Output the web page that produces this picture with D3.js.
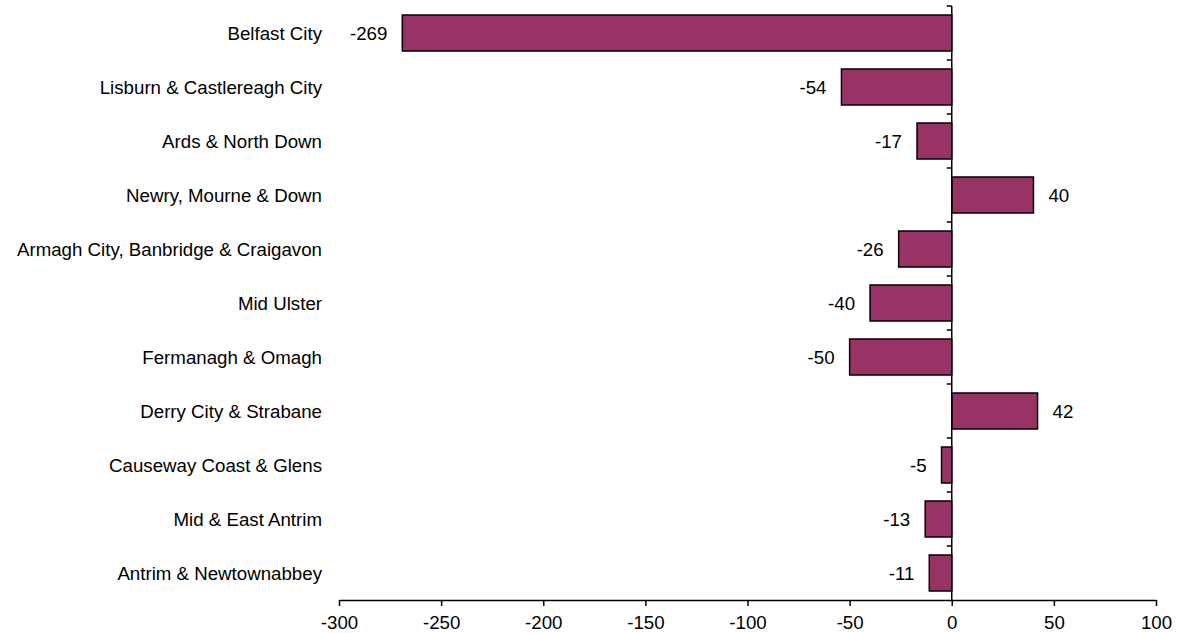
<!DOCTYPE html>
<html>
<head>
<meta charset="utf-8">
<script src="https://cdn.jsdelivr.net/npm/d3@7"></script>
<style>
  body { margin: 0; background: #fff; }
  text { font-family: "Liberation Sans", Arial, sans-serif; fill: #000; }
</style>
</head>
<body>
<svg id="chart" width="1179" height="633"></svg>
<script>
// Net change by Local Government District
const districts = [
  "Belfast City",
  "Lisburn & Castlereagh City",
  "Ards & North Down",
  "Newry, Mourne & Down",
  "Armagh City, Banbridge & Craigavon",
  "Mid Ulster",
  "Fermanagh & Omagh",
  "Derry City & Strabane",
  "Causeway Coast & Glens",
  "Mid & East Antrim",
  "Antrim & Newtownabbey"
];
const values = [-269, -54, -17, 40, -26, -40, -50, 42, -5, -13, -11];
const xTicks = [-300, -250, -200, -150, -100, -50, 0, 50, 100];

const svg = d3.select("#chart");
const plot = { left: 339, right: 1156, top: 6, bottom: 600 };

const x = d3.scaleLinear().domain([-300, 100]).range([plot.left, plot.right]);
const y = d3.scaleBand().domain(districts).range([plot.top, plot.bottom]).paddingInner(1/3).paddingOuter(1/6);

const fontSize = 18.7;

// bars
svg.append("g").selectAll("rect")
  .data(values)
  .join("rect")
  .attr("x", d => x(Math.min(0, d)))
  .attr("y", (d, i) => y(districts[i]))
  .attr("width", d => Math.abs(x(d) - x(0)))
  .attr("height", y.bandwidth())
  .attr("fill", "#993366")
  .attr("stroke", "#000")
  .attr("stroke-width", 1.5);

// value labels
svg.append("g").selectAll("text")
  .data(values)
  .join("text")
  .attr("x", d => d < 0 ? x(d) - 15 : x(d) + 15)
  .attr("y", (d, i) => y(districts[i]) + y.bandwidth() / 2)
  .attr("dy", "0.35em")
  .attr("text-anchor", d => d < 0 ? "end" : "start")
  .style("font-size", fontSize + "px")
  .text(d => String(d));

// category labels at the left of the plot area
svg.append("g").selectAll("text")
  .data(districts)
  .join("text")
  .attr("x", 322)
  .attr("y", d => y(d) + y.bandwidth() / 2)
  .attr("dy", "0.35em")
  .attr("text-anchor", "end")
  .style("font-size", fontSize + "px")
  .text(d => d);

// vertical axis at zero with ticks between categories
const yAxis = svg.append("g").attr("stroke", "#000").attr("stroke-width", 1.5);
yAxis.append("line")
  .attr("x1", x(0)).attr("x2", x(0))
  .attr("y1", plot.top).attr("y2", plot.bottom);
yAxis.selectAll("line.tick")
  .data(districts)
  .join("line")
  .attr("class", "tick")
  .attr("x1", x(0) - 5).attr("x2", x(0))
  .attr("y1", d => y(d) - y.step() * y.paddingInner() / 2)
  .attr("y2", d => y(d) - y.step() * y.paddingInner() / 2);

// horizontal axis
const xAxis = svg.append("g")
  .attr("transform", `translate(0,${plot.bottom})`)
  .call(d3.axisBottom(x).tickValues(xTicks).tickFormat(d => String(d))
    .tickSize(6).tickSizeOuter(0).tickPadding(10));
xAxis.select(".domain").attr("stroke", "#000").attr("stroke-width", 1.5);
xAxis.selectAll(".tick line").attr("stroke", "#000").attr("stroke-width", 1.5);
xAxis.selectAll(".tick text")
  .style("font-size", fontSize + "px")
  .style("font-family", "'Liberation Sans', Arial, sans-serif")
  .attr("fill", "#000");
</script>
</body>
</html>
